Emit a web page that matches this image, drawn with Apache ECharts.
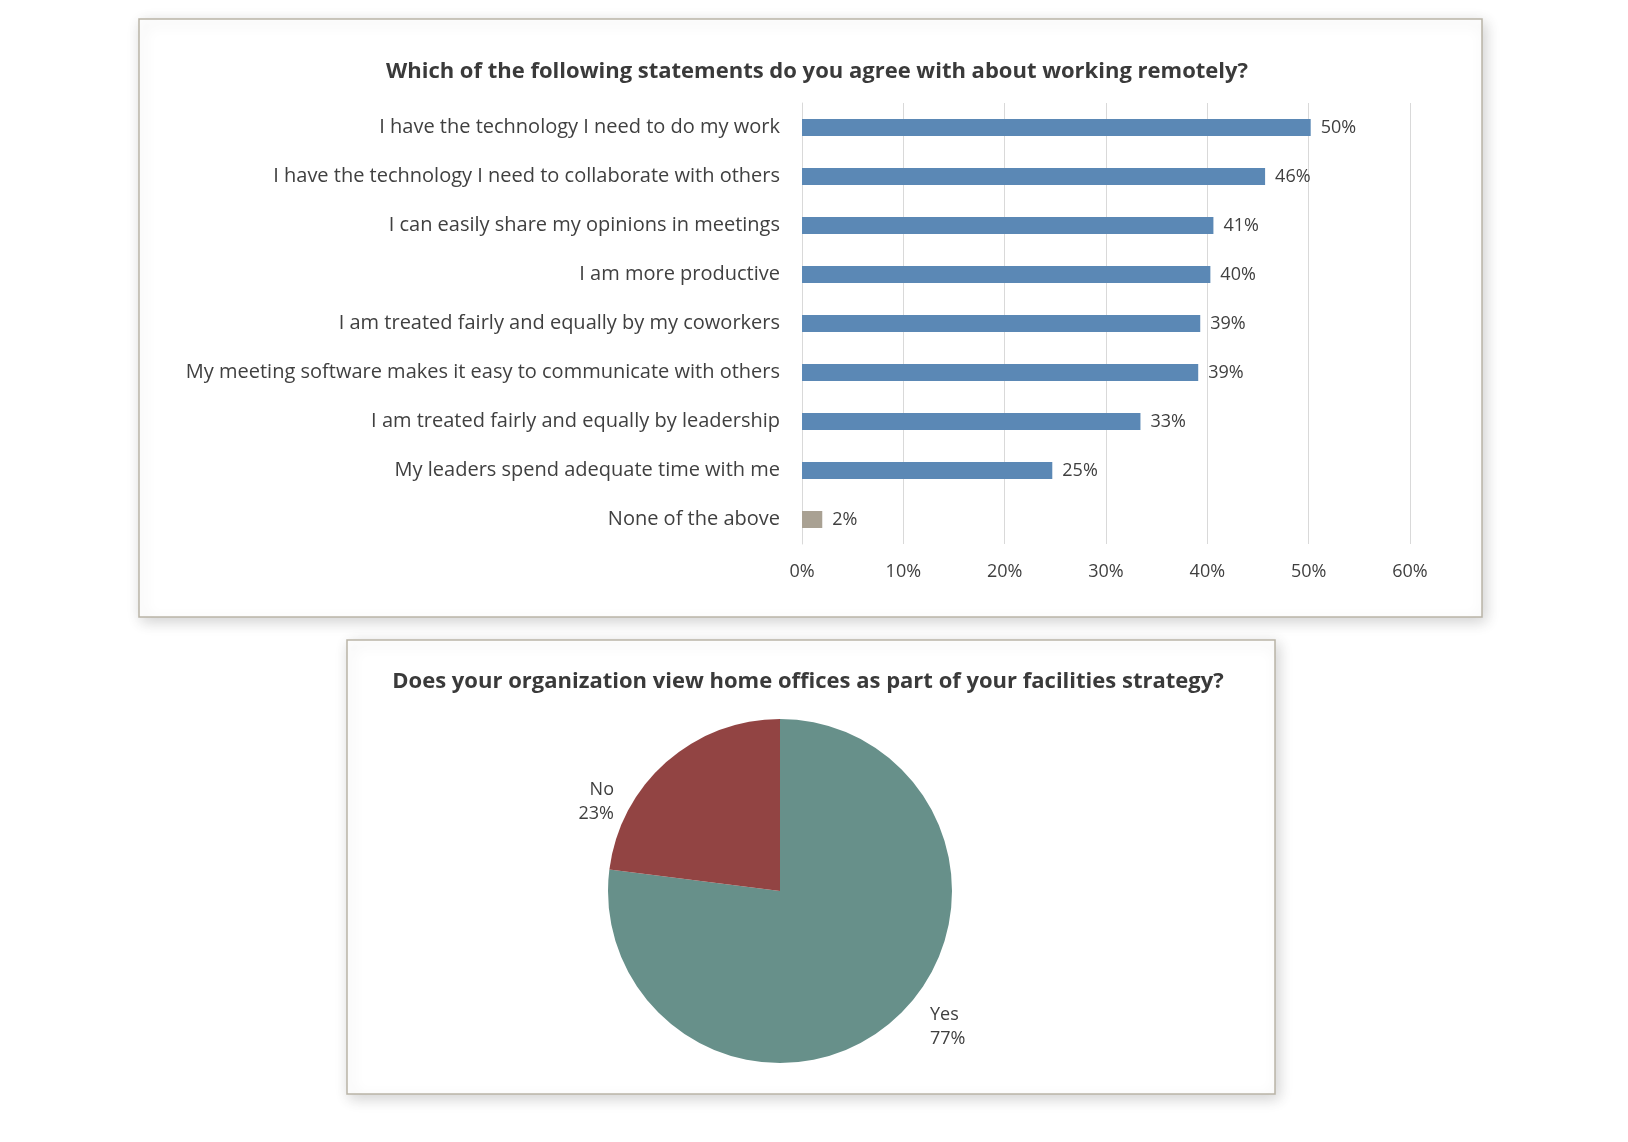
<!DOCTYPE html>
<html>
<head>
<meta charset="utf-8">
<style>
  html, body { margin: 0; padding: 0; background: #ffffff; }
  #chart { width: 1628px; height: 1142px; }
</style>
<script src="https://cdn.jsdelivr.net/npm/echarts@6/dist/echarts.min.js"></script>
</head>
<body>
<div id="chart"></div>
<script>
var statements = [
    'I have the technology I need to do my work',
    'I have the technology I need to collaborate with others',
    'I can easily share my opinions in meetings',
    'I am more productive',
    'I am treated fairly and equally by my coworkers',
    'My meeting software makes it easy to communicate with others',
    'I am treated fairly and equally by leadership',
    'My leaders spend adequate time with me',
    'None of the above'
];
var agreePct = [50.2, 45.7, 40.6, 40.3, 39.3, 39.1, 33.4, 24.7, 2.0];
var pctTicks = [0, 10, 20, 30, 40, 50, 60];

var pieNames = ['Yes', 'No'];
var pieValues = [77, 23];

var barTitle = 'Which of the following statements do you agree with about working remotely?';
var pieTitle = 'Does your organization view home offices as part of your facilities strategy?';

var font = '"Open Sans", "Noto Sans", sans-serif';
var textColor = '#404040';

var barData = agreePct.map(function (v, i) {
    return {
        value: v,
        itemStyle: { color: i === agreePct.length - 1 ? '#A9A193' : '#5B88B5' }
    };
});

var pieData = pieNames.map(function (n, i) {
    return { name: n, value: pieValues[i] };
});

// nudges to put the pie labels where the original has them
var pieLabelShift = [[22, -4], [-38, 50]];

var chart = echarts.init(document.getElementById('chart'));

chart.setOption({
    backgroundColor: '#ffffff',
    animation: false,
    graphic: [
        {
            type: 'rect', z: -10,
            shape: { x: 139, y: 19, width: 1343, height: 598 },
            style: { fill: '#ffffff', stroke: '#B9B4A6', lineWidth: 1.5,
                shadowBlur: 14, shadowColor: 'rgba(0,0,0,0.18)', shadowOffsetX: 3, shadowOffsetY: 4 }
        },
        {
            type: 'rect', z: -10,
            shape: { x: 347, y: 640, width: 928, height: 454 },
            style: { fill: '#ffffff', stroke: '#B9B4A6', lineWidth: 1.5,
                shadowBlur: 14, shadowColor: 'rgba(0,0,0,0.18)', shadowOffsetX: 3, shadowOffsetY: 4 }
        }
    ],
    title: [
        {
            text: barTitle,
            left: 812, top: 56, textAlign: 'center',
            textStyle: { fontFamily: font, fontWeight: 'bold', fontSize: 22, color: '#3A3A3A' }
        },
        {
            text: pieTitle,
            left: 803, top: 666, textAlign: 'center',
            textStyle: { fontFamily: font, fontWeight: 'bold', fontSize: 22, color: '#3A3A3A' }
        }
    ],
    grid: { left: 802, right: 218, top: 103, height: 441 },
    xAxis: {
        type: 'value',
        min: 0, max: 60, interval: 10,
        axisLine: { show: false },
        axisTick: { show: false },
        splitLine: { show: true, lineStyle: { color: '#D9D9D9', width: 1 } },
        axisLabel: {
            margin: 19,
            fontFamily: font, fontSize: 18, color: textColor,
            formatter: function (v) { return pctTicks.indexOf(v) >= 0 ? v + '%' : ''; }
        }
    },
    yAxis: {
        type: 'category',
        inverse: true,
        data: statements,
        axisLine: { show: true, lineStyle: { color: '#D9D9D9' } },
        axisTick: { show: false },
        axisLabel: { margin: 22, fontFamily: font, fontSize: 20, color: textColor, padding: [3, 0, 0, 0] }
    },
    series: [
        {
            type: 'bar',
            data: barData,
            barWidth: 17,
            label: {
                show: true, position: 'right', distance: 10,
                fontFamily: font, fontSize: 18, color: textColor, padding: [4, 0, 0, 0],
                formatter: function (p) { return Math.round(p.value) + '%'; }
            }
        },
        {
            type: 'pie',
            center: [780, 891],
            radius: 172,
            startAngle: 90,
            clockwise: true,
            data: pieData,
            color: ['#67908A', '#924443'],
            itemStyle: { borderColor: '#ffffff', borderWidth: 0 },
            label: {
                show: true, position: 'outside',
                fontFamily: font, fontSize: 18, color: textColor, lineHeight: 24,
                align: 'center',
                formatter: function (p) { return p.name + '\n' + p.value + '%'; }
            },
            labelLine: { show: false, length: 14, length2: 0 },
            labelLayout: function (p) {
                var s = pieLabelShift[p.dataIndex];
                return { dx: s[0], dy: s[1] };
            }
        }
    ]
});
</script>
</body>
</html>
